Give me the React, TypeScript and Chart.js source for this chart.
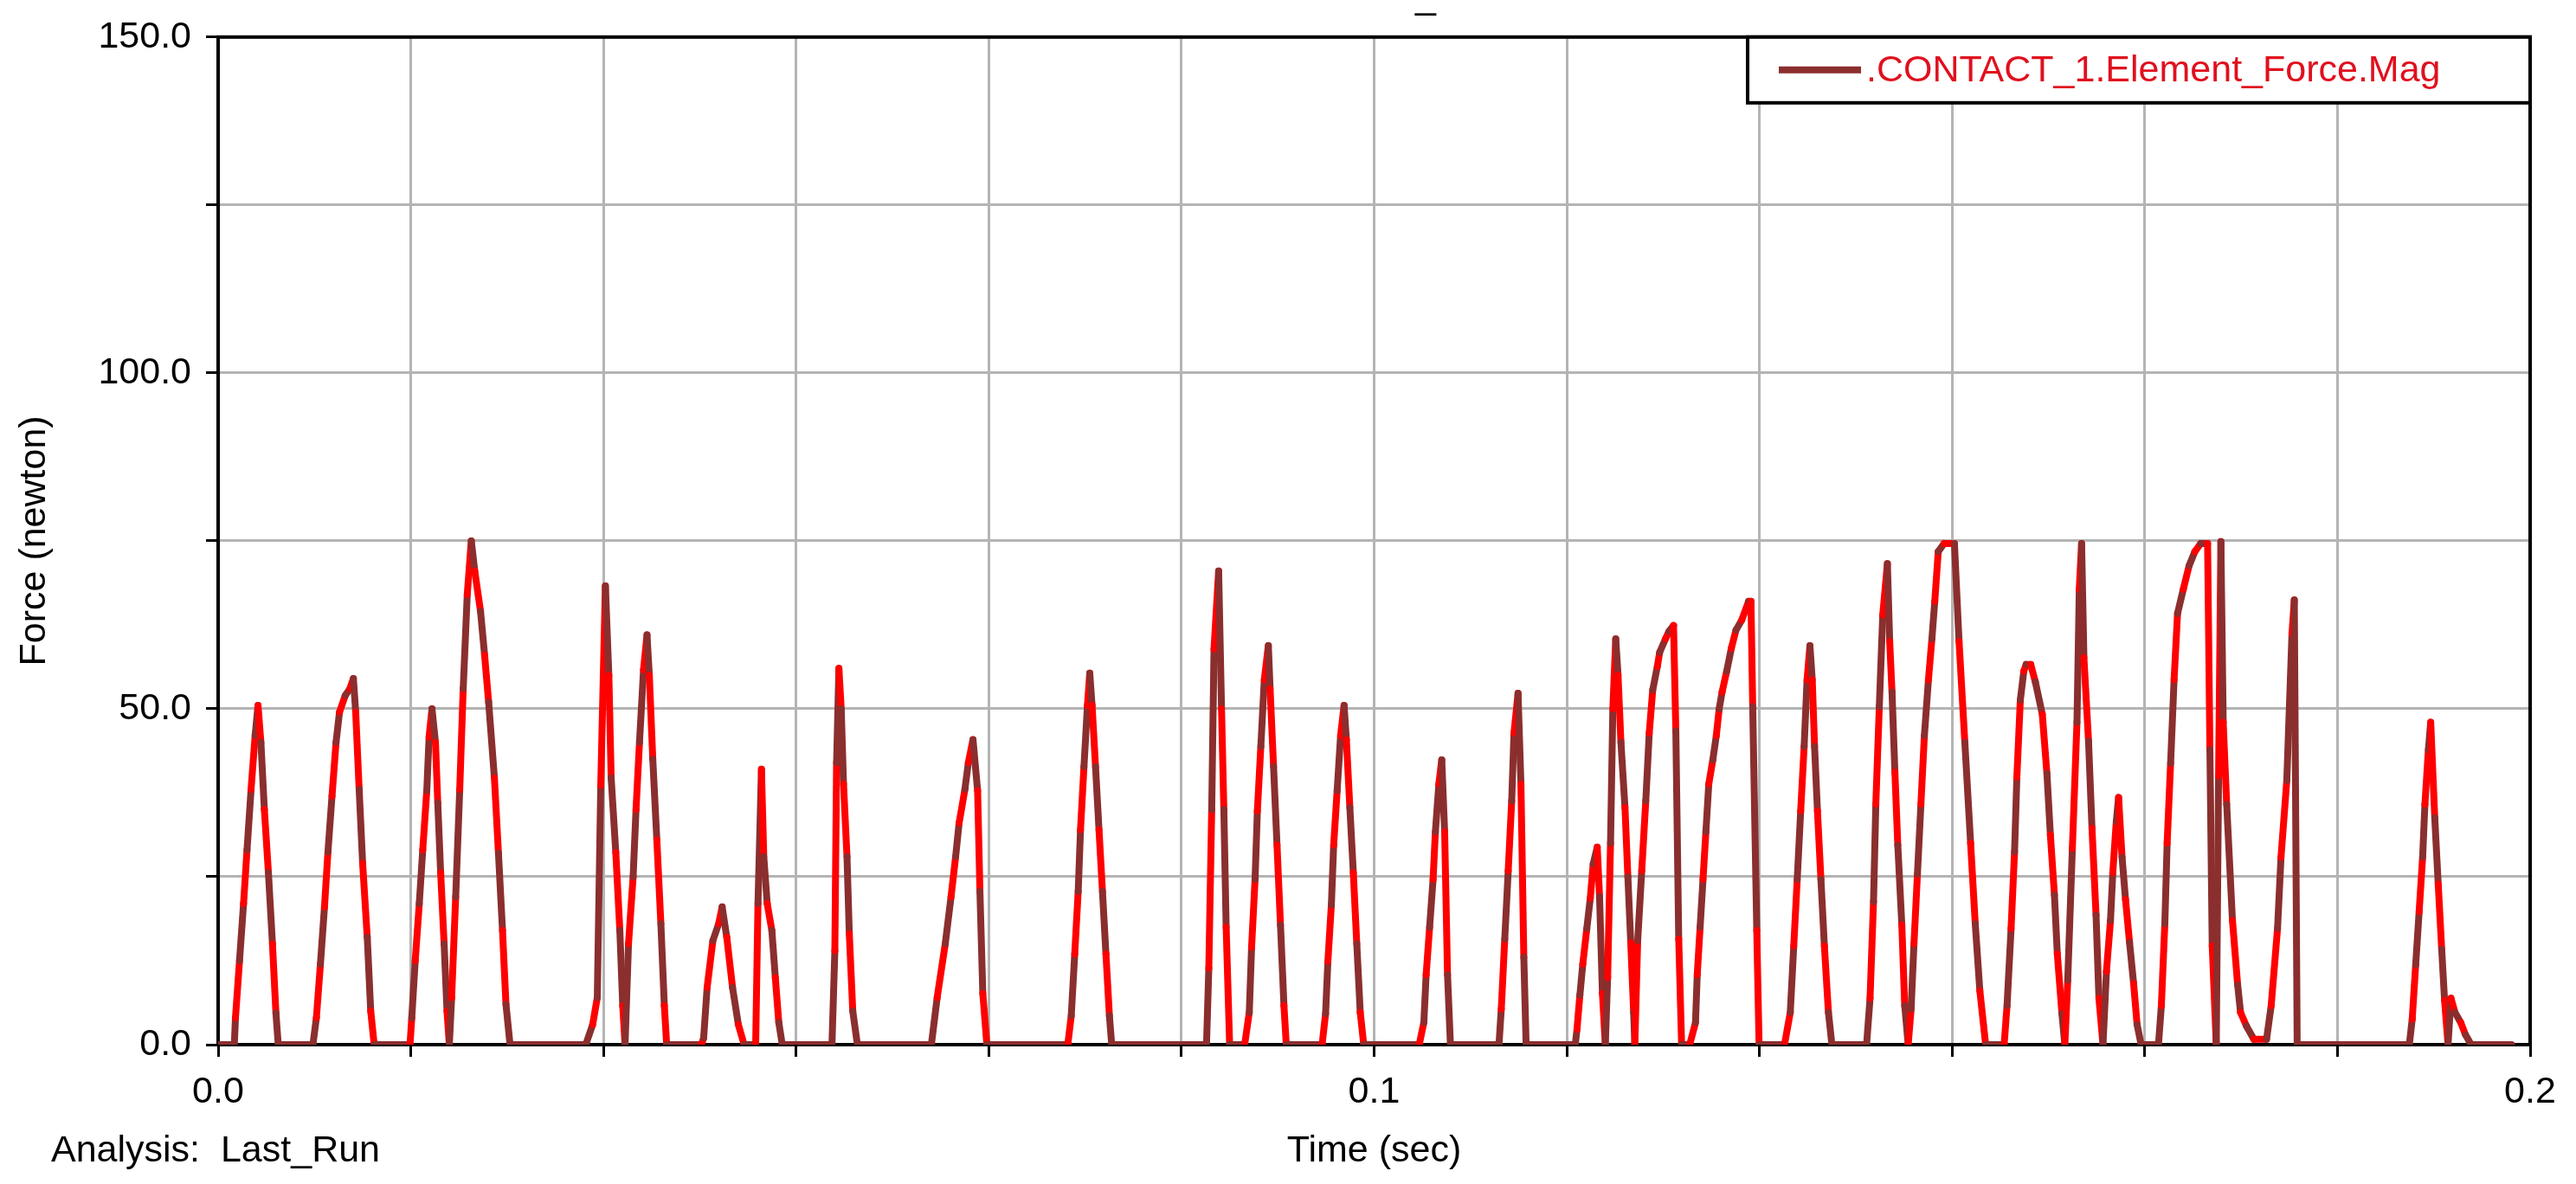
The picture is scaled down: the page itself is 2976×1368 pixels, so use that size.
import React, { useEffect, useRef } from "react";
import { Chart, registerables } from "chart.js";

Chart.register(...registerables);

// ---- data: [time (ms), force (newton)] vertices ----
const SEG_A: [number, number][] = [
  [0, 0], [1.4, 0], [1.5, 4], [1.85, 12.5], [2.2, 21], [2.5, 29], [2.85, 38], [3.2, 46], [3.45, 50.5], [3.7, 45], [4.0, 35], [4.35, 25.6], [4.7, 15], [5.0, 4.7], [5.2, 0],
  [8.2, 0], [8.5, 4], [8.85, 12], [9.2, 20.5], [9.5, 28.7], [9.85, 37], [10.2, 45], [10.5, 49.5], [11.0, 52], [11.4, 53], [11.7, 54.5], [11.9, 49.5], [12.2, 38], [12.5, 27], [12.9, 16], [13.2, 5], [13.5, 0],
  [16.6, 0], [16.75, 4], [17.05, 12.5], [17.4, 21], [17.7, 29], [18.05, 37.8], [18.25, 45.8], [18.5, 50], [18.8, 45], [19.0, 36], [19.25, 25.6], [19.55, 15], [19.8, 5], [20.0, 0],
  [20.2, 7], [20.55, 22], [20.9, 38], [21.2, 53], [21.55, 67], [21.9, 75], [22.2, 70.5], [22.7, 64.5], [23.05, 58], [23.4, 51], [23.9, 39.7], [24.25, 28.5], [24.6, 17], [24.9, 6], [25.25, 0],
  [31.8, 0], [32.4, 3], [32.8, 7], [33.1, 38.6], [33.5, 68.3], [33.8, 55], [34.0, 39.7], [34.4, 28.6], [34.75, 17], [35.0, 5.8], [35.2, 0],
  [35.5, 15], [35.9, 25], [36.15, 35], [36.45, 45], [36.8, 55.8], [37.1, 61], [37.3, 55], [37.6, 42.5], [37.95, 30.5], [38.3, 18], [38.6, 5.8], [38.8, 0],
  [41.8, 0], [42.0, 1], [42.3, 8.5], [42.8, 15.5], [43.3, 18], [43.6, 20.5], [44.0, 16], [44.5, 8.5], [45.0, 3], [45.5, 0],
  [46.5, 0], [46.7, 21], [47.0, 41], [47.2, 28], [47.5, 21], [47.9, 17], [48.2, 10], [48.5, 3.3], [48.8, 0],
];

const SEG_B: [number, number][] = [
  [53.1, 0], [53.35, 14], [53.5, 42], [53.7, 56], [53.9, 50], [54.1, 38.8], [54.4, 28], [54.6, 16.5], [54.9, 5], [55.3, 0],
  [61.7, 0], [62.2, 7], [62.9, 15], [63.4, 22], [63.8, 28], [64.1, 33], [64.6, 38], [64.9, 42], [65.3, 45.4], [65.7, 37.8], [65.9, 22.8], [66.15, 7.6], [66.5, 0],
  [73.5, 0], [73.8, 4.3], [74.1, 13.5], [74.4, 22.8], [74.6, 32], [74.9, 41.4], [75.2, 50.5], [75.4, 55.3], [75.6, 50.5], [75.9, 41.4], [76.2, 32], [76.5, 22.8], [76.8, 13.5], [77.1, 4.3], [77.3, 0],
  [85.5, 0], [85.7, 11.4], [85.95, 35], [86.15, 58.9], [86.55, 70.5], [86.8, 50], [87.0, 35], [87.2, 17.5], [87.5, 0],
  [88.8, 0], [89.2, 4.8], [89.4, 14.5], [89.7, 24.6], [89.9, 34.8], [90.2, 44.4], [90.5, 54.3], [90.85, 59.4], [91.0, 53], [91.3, 41.4], [91.6, 29.7], [91.9, 17.8], [92.2, 5.8], [92.4, 0],
  [95.5, 0], [95.8, 4.6], [96.0, 12.4], [96.3, 20.8], [96.5, 29.7], [96.8, 37.8], [97.1, 46], [97.4, 50.5], [97.6, 45.4], [97.9, 35.3], [98.2, 25.6], [98.5, 15], [98.8, 4.8], [99.1, 0],
];

const SEG_C: [number, number][] = [
  [103.9, 0], [104.3, 3.3], [104.5, 10.4], [104.8, 17.5], [105.1, 24.6], [105.3, 31.7], [105.6, 38.8], [105.85, 42.4], [106.1, 31.7], [106.35, 10.4], [106.6, 0],
  [110.8, 0], [111.0, 5.3], [111.3, 15.7], [111.6, 25.9], [111.9, 36.3], [112.1, 46.4], [112.45, 52.3], [112.7, 38.8], [112.95, 13], [113.15, 0],
  [117.4, 0], [117.55, 2.3], [117.8, 7.4], [118.05, 12], [118.4, 17.3], [118.7, 21.8], [118.95, 26.9], [119.3, 29.4], [119.5, 22], [119.75, 7.6], [120.0, 0],
  [120.2, 10], [120.45, 30], [120.65, 50], [120.9, 60.4], [121.1, 55], [121.35, 45], [121.7, 35.3], [121.95, 25], [122.2, 15.2], [122.45, 4.8], [122.55, 0],
  [122.8, 15.5], [123.15, 25.9], [123.5, 36.3], [123.8, 46.4], [124.1, 52.8], [124.5, 56.3], [124.7, 58.4], [125.2, 60.4], [125.5, 61.5], [125.9, 62.4], [126.1, 46.7], [126.35, 15.7], [126.6, 0],
  [127.3, 0], [127.8, 3.3], [127.95, 10.4], [128.2, 17.5], [128.45, 24.6], [128.7, 31.7], [128.95, 38.8], [129.3, 42.4], [129.6, 46], [129.85, 50], [130.1, 52.5], [130.5, 55.6], [130.9, 59], [131.3, 61.7], [131.8, 63.2], [132.4, 66], [132.6, 66], [132.75, 50.3], [133.1, 17], [133.3, 0],
  [135.5, 0], [136.0, 4.8], [136.3, 14.7], [136.6, 24.6], [136.9, 34.8], [137.2, 44.4], [137.45, 54.3], [137.7, 59.4], [137.9, 54.3], [138.1, 44.4], [138.35, 34.8], [138.65, 24.6], [138.95, 14.7], [139.3, 4.8], [139.6, 0],
  [142.6, 0], [142.9, 6.9], [143.2, 21.3], [143.4, 35.8], [143.7, 50.3], [144.0, 64], [144.4, 71.6], [144.6, 60], [144.8, 52.5], [145.05, 40.6], [145.3, 29.7], [145.65, 17.8], [145.9, 5.8], [146.2, 0],
  [146.45, 5.3], [146.7, 15], [147.0, 25.4], [147.3, 35.8], [147.6, 46], [147.95, 54.3], [148.25, 60.4], [148.5, 66], [148.8, 73.4], [149.3, 74.6], [150.2, 74.6], [150.6, 60], [151.1, 45], [151.6, 30], [152.0, 18], [152.4, 8], [152.9, 0],
];

const SEG_D: [number, number][] = [
  [154.5, 0], [154.75, 5.8], [155.1, 17.3], [155.4, 28.7], [155.6, 39.8], [155.9, 51.3], [156.2, 55.6], [156.4, 56.6], [156.8, 56.6], [157.2, 54], [157.8, 49.2], [158.2, 40.4], [158.5, 31.2], [158.85, 22.3], [159.1, 13.5], [159.5, 4.6], [159.75, 0],
  [160.0, 9.6], [160.4, 29.2], [160.8, 48], [161.0, 67.8], [161.2, 74.6], [161.4, 57.6], [161.8, 45.2], [162.1, 32.2], [162.45, 19.3], [162.7, 6.9], [163.05, 0],
  [163.35, 10.9], [163.7, 18.5], [163.9, 25.6], [164.2, 33.2], [164.4, 36.8], [164.7, 27.9], [165.0, 21.6], [165.35, 15.2], [165.7, 9.1], [166.0, 3], [166.35, 0],
  [167.85, 0], [168.1, 5.8], [168.4, 18], [168.6, 30], [168.9, 41.9], [169.2, 54.3], [169.5, 64.2], [170.0, 67.8], [170.5, 71.3], [171.0, 73.4], [171.5, 74.6], [172.1, 74.6], [172.3, 43.9], [172.5, 14.7], [172.85, 0],
  [173.05, 40], [173.25, 74.9], [173.45, 48], [173.75, 35.8], [174.25, 18.5], [174.7, 8.9], [174.95, 4.8], [175.45, 2.8], [176.1, 0.8], [177.2, 0.8],
  [177.6, 5.8], [178.15, 17.3], [178.45, 27.9], [178.95, 39.3], [179.4, 61.2], [179.6, 66.2], [179.85, 0],
  [189.55, 0], [189.8, 3.8], [190.1, 11.9], [190.4, 19.8], [190.7, 27.9], [190.9, 35.8], [191.2, 43.9], [191.4, 48], [191.75, 33.8], [192.05, 23.9], [192.35, 14.2], [192.6, 6.6], [192.9, 0],
  [193.15, 6.9], [193.5, 4.8], [194.0, 3.3], [194.4, 1.5], [194.9, 0], [198.4, 0],
];

// ---- axes ----
const X_TICKS = [0, 0.016667, 0.033333, 0.05, 0.066667, 0.083333, 0.1, 0.116667, 0.133333, 0.15, 0.166667, 0.183333, 0.2];
const X_TICK_LABELS = ["0.0", "", "", "", "", "", "0.1", "", "", "", "", "", "0.2"];
const Y_TICKS = [0, 25, 50, 75, 100, 125, 150];
const Y_TICK_LABELS = ["0.0", "", "50.0", "", "100.0", "", "150.0"];

const SERIES_NAME = ".CONTACT_1.Element_Force.Mag";
const X_TITLE = "Time (sec)";
const Y_TITLE = "Force (newton)";
const FOOTER = "Analysis:  Last_Run";
const TOP_TITLE = "_";

const RED = "#FF0000";
const BROWN = "#8B2E2E";
const FONT = "'Liberation Sans', Arial, Helvetica, sans-serif";

export default function App() {
  const ref = useRef<HTMLCanvasElement | null>(null);

  useEffect(() => {
    const canvas = ref.current;
    if (!canvas) return;

    const points = [...SEG_A, ...SEG_B, ...SEG_C, ...SEG_D].map(([t, f]) => ({ x: t / 1000, y: f }));

    const framePlugin = {
      id: "frame",
      beforeDatasetsDraw(chart: any) {
        const { ctx, chartArea } = chart;
        const { left, top, right, bottom } = chartArea;
        ctx.save();
        ctx.strokeStyle = "#000";
        ctx.lineWidth = 4;
        ctx.strokeRect(left, top, right - left, bottom - top);
        ctx.restore();
      },
      afterDatasetsDraw(chart: any) {
        const { ctx, chartArea } = chart;
        const { right, top } = chartArea;
        const bw = 904;
        const bh = 76;
        const bx = right - bw;
        ctx.save();
        ctx.fillStyle = "#fff";
        ctx.fillRect(bx, top, bw, bh);
        ctx.strokeStyle = "#000";
        ctx.lineWidth = 4;
        ctx.strokeRect(bx, top, bw, bh);
        const cy = top + bh / 2;
        ctx.strokeStyle = BROWN;
        ctx.lineWidth = 8;
        ctx.beginPath();
        ctx.moveTo(bx + 36, cy);
        ctx.lineTo(bx + 131, cy);
        ctx.stroke();
        ctx.fillStyle = "#E0101E";
        ctx.font = `43px ${FONT}`;
        ctx.textAlign = "left";
        ctx.textBaseline = "middle";
        ctx.fillText(SERIES_NAME, bx + 137, cy + 1);
        ctx.restore();
      },
      afterDraw(chart: any) {
        const { ctx } = chart;
        ctx.save();
        ctx.fillStyle = "#000";
        ctx.font = `43px ${FONT}`;
        ctx.textAlign = "left";
        ctx.textBaseline = "middle";
        ctx.fillText(FOOTER, 59, 1330);
        ctx.textBaseline = "alphabetic";
        ctx.fillText(TOP_TITLE, 1635, 10);
        ctx.restore();
      },
    };

    const chart = new Chart(canvas, {
      type: "line",
      data: {
        datasets: [
          {
            label: SERIES_NAME,
            data: points,
            borderColor: BROWN,
            borderWidth: 8,
            pointRadius: 0,
            tension: 0,
            fill: false,
            borderCapStyle: "round",
            segment: {
              borderColor: (c: any) => {
                if (c.p0.parsed.y === 0 && c.p1.parsed.y === 0) return BROWN;
                return c.p0DataIndex % 2 === 0 ? RED : BROWN;
              },
            },
          } as any,
        ],
      },
      options: {
        animation: false,
        responsive: false,
        devicePixelRatio: 1,
        layout: { padding: { top: 40, right: 53, left: 0, bottom: 0 } },
        plugins: {
          legend: { display: false },
          tooltip: { enabled: false },
          title: { display: false },
        },
        scales: {
          x: {
            type: "linear",
            min: 0,
            max: 0.2,
            afterBuildTicks: (s: any) => {
              s.ticks = X_TICKS.map((v) => ({ value: v }));
            },
            afterFit: (s: any) => {
              s.height = 161;
            },
            ticks: {
              autoSkip: false,
              maxRotation: 0,
              minRotation: 0,
              padding: 15,
              color: "#000",
              font: { family: FONT, size: 43 },
              callback: (_v: any, i: number) => X_TICK_LABELS[i] ?? "",
            },
            grid: {
              color: "#B4B4B4",
              lineWidth: 3,
              tickColor: "#000",
              tickWidth: 3,
              tickLength: 14,
              drawTicks: true,
            },
            border: { display: false },
            title: {
              display: true,
              text: X_TITLE,
              color: "#000",
              font: { family: FONT, size: 43 },
              padding: { top: 0, bottom: 12 },
            },
          },
          y: {
            type: "linear",
            min: 0,
            max: 150,
            afterBuildTicks: (s: any) => {
              s.ticks = Y_TICKS.map((v) => ({ value: v }));
            },
            afterFit: (s: any) => {
              s.width = 252;
            },
            ticks: {
              autoSkip: false,
              padding: 17,
              color: "#000",
              font: { family: FONT, size: 43 },
              callback: (_v: any, i: number) => Y_TICK_LABELS[i] ?? "",
            },
            grid: {
              color: "#B4B4B4",
              lineWidth: 3,
              tickColor: "#000",
              tickWidth: 3,
              tickLength: 14,
              drawTicks: true,
            },
            border: { display: false },
            title: {
              display: true,
              text: Y_TITLE,
              color: "#000",
              font: { family: FONT, size: 43 },
              padding: { top: 14, bottom: 0 },
            },
          },
        },
      } as any,
      plugins: [framePlugin],
    });

    return () => chart.destroy();
  }, []);

  return (
    <div style={{ position: "fixed", left: 0, top: 0, width: 2976, height: 1368, background: "#fff" }}>
      <canvas ref={ref} width={2976} height={1368} style={{ display: "block", width: 2976, height: 1368 }} />
    </div>
  );
}
